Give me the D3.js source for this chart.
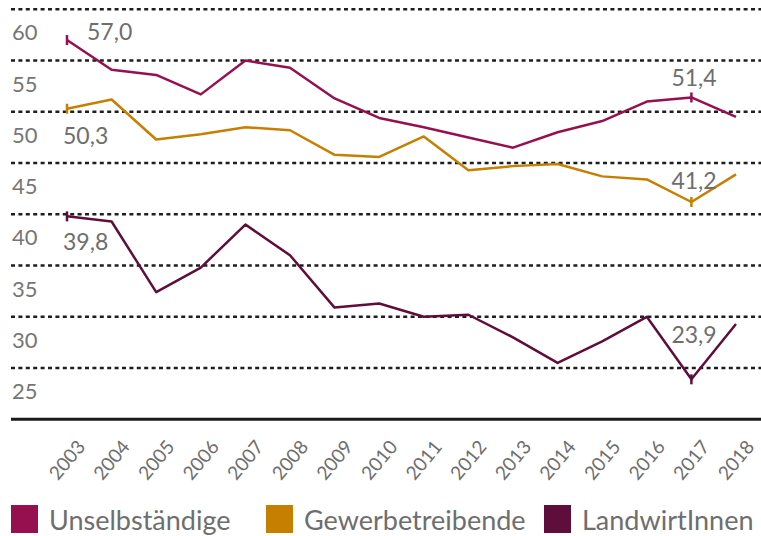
<!DOCTYPE html>
<html>
<head>
<meta charset="utf-8">
<script src="https://cdn.jsdelivr.net/npm/d3@7"></script>
<style>
  body { margin: 0; background: #fff; }
  svg { display: block; font-family: Lato, "Open Sans", sans-serif; }
</style>
</head>
<body>
<div id="chart"></div>
<script>
const years = [2003, 2004, 2005, 2006, 2007, 2008, 2009, 2010, 2011, 2012, 2013, 2014, 2015, 2016, 2017, 2018];

const unselbstaendige = [57.0, 54.1, 53.6, 51.7, 55.0, 54.3, 51.3, 49.4, 48.5, 47.5, 46.5, 48.0, 49.1, 51.0, 51.4, 49.5];
const gewerbetreibende = [50.3, 51.2, 47.3, 47.8, 48.5, 48.2, 45.8, 45.6, 47.6, 44.3, 44.7, 44.9, 43.7, 43.4, 41.2, 43.9];
const landwirtinnen = [39.8, 39.3, 32.4, 34.8, 39.0, 36.0, 30.9, 31.3, 30.0, 30.2, 28.0, 25.5, 27.6, 30.0, 23.9, 29.3];

const seriesNames = ["Unselbständige", "Gewerbetreibende", "LandwirtInnen"];
const seriesColors = ["#961050", "#c67f00", "#5f0d3a"];

const yTicks = [25, 30, 35, 40, 45, 50, 55, 60];

// which points get a value label (year index) and where the label sits
const labelled = [
    { s: 0, i: 0, dx: 20, dy: 0 },
    { s: 0, i: 14, dx: -20, dy: -11 },
    { s: 1, i: 0, dx: -4, dy: 35 },
    { s: 1, i: 14, dx: -20, dy: -13 },
    { s: 2, i: 0, dx: -4, dy: 34 },
    { s: 2, i: 14, dx: -20, dy: -36 }
];

const width = 761, height = 536;
const series = [unselbstaendige, gewerbetreibende, landwirtinnen];

const svg = d3.select("#chart").append("svg")
    .attr("width", width)
    .attr("height", height);

const x = d3.scalePoint().domain(years).range([67, 736]);
const y = d3.scaleLinear().domain([20, 60]).range([419.3, 9.3]);

// dotted grid lines
svg.append("g")
    .selectAll("line")
    .data(yTicks)
    .enter().append("line")
    .attr("x1", 11)
    .attr("x2", width)
    .attr("y1", d => y(d))
    .attr("y2", d => y(d))
    .attr("stroke", "#1e1e1e")
    .attr("stroke-width", 2.6)
    .attr("stroke-dasharray", "4,3.4");

// y labels sit below their grid line
svg.append("g")
    .selectAll("text")
    .data(yTicks)
    .enter().append("text")
    .attr("x", 12)
    .attr("y", d => y(d) + 31)
    .attr("fill", "#767676")
    .attr("font-size", 22)
    .text(d => d);

// base line
svg.append("line")
    .attr("x1", 11)
    .attr("x2", width)
    .attr("y1", y(20))
    .attr("y2", y(20))
    .attr("stroke", "#1a1a1a")
    .attr("stroke-width", 3);

// year labels
svg.append("g")
    .selectAll("text")
    .data(years)
    .enter().append("text")
    .attr("transform", d => `translate(${x(d)},460) rotate(-50)`)
    .attr("text-anchor", "middle")
    .attr("dy", "0.35em")
    .attr("fill", "#6e6e6e")
    .attr("font-size", 19)
    .text(d => d);

// lines
const line = d3.line()
    .x((d, i) => x(years[i]))
    .y(d => y(d));

svg.append("g")
    .selectAll("path")
    .data(series)
    .enter().append("path")
    .attr("d", d => line(d))
    .attr("fill", "none")
    .attr("stroke", (d, i) => seriesColors[i])
    .attr("stroke-width", 2.5)
    .attr("stroke-linejoin", "round");

// markers + value labels
const fmt = v => d3.format(".1f")(v).replace(".", ",");

labelled.forEach(l => {
    const px = x(years[l.i]);
    const py = y(series[l.s][l.i]);
    svg.append("line")
        .attr("x1", px).attr("x2", px)
        .attr("y1", py - 5).attr("y2", py + 5)
        .attr("stroke", seriesColors[l.s])
        .attr("stroke-width", 2.5);
    svg.append("text")
        .attr("x", px + l.dx)
        .attr("y", py + l.dy)
        .attr("fill", "#6e6e6e")
        .attr("font-size", 23)
        .text(fmt(series[l.s][l.i]));
});

// legend
const legendX = [11, 266, 544];
const legend = svg.append("g");
seriesNames.forEach((name, i) => {
    legend.append("rect")
        .attr("x", legendX[i])
        .attr("y", 505)
        .attr("width", 27)
        .attr("height", 28)
        .attr("fill", seriesColors[i]);
    legend.append("text")
        .attr("x", legendX[i] + 38)
        .attr("y", 530)
        .attr("fill", "#6e6e6e")
        .attr("font-size", 27)
        .text(name);
});
</script>
</body>
</html>
